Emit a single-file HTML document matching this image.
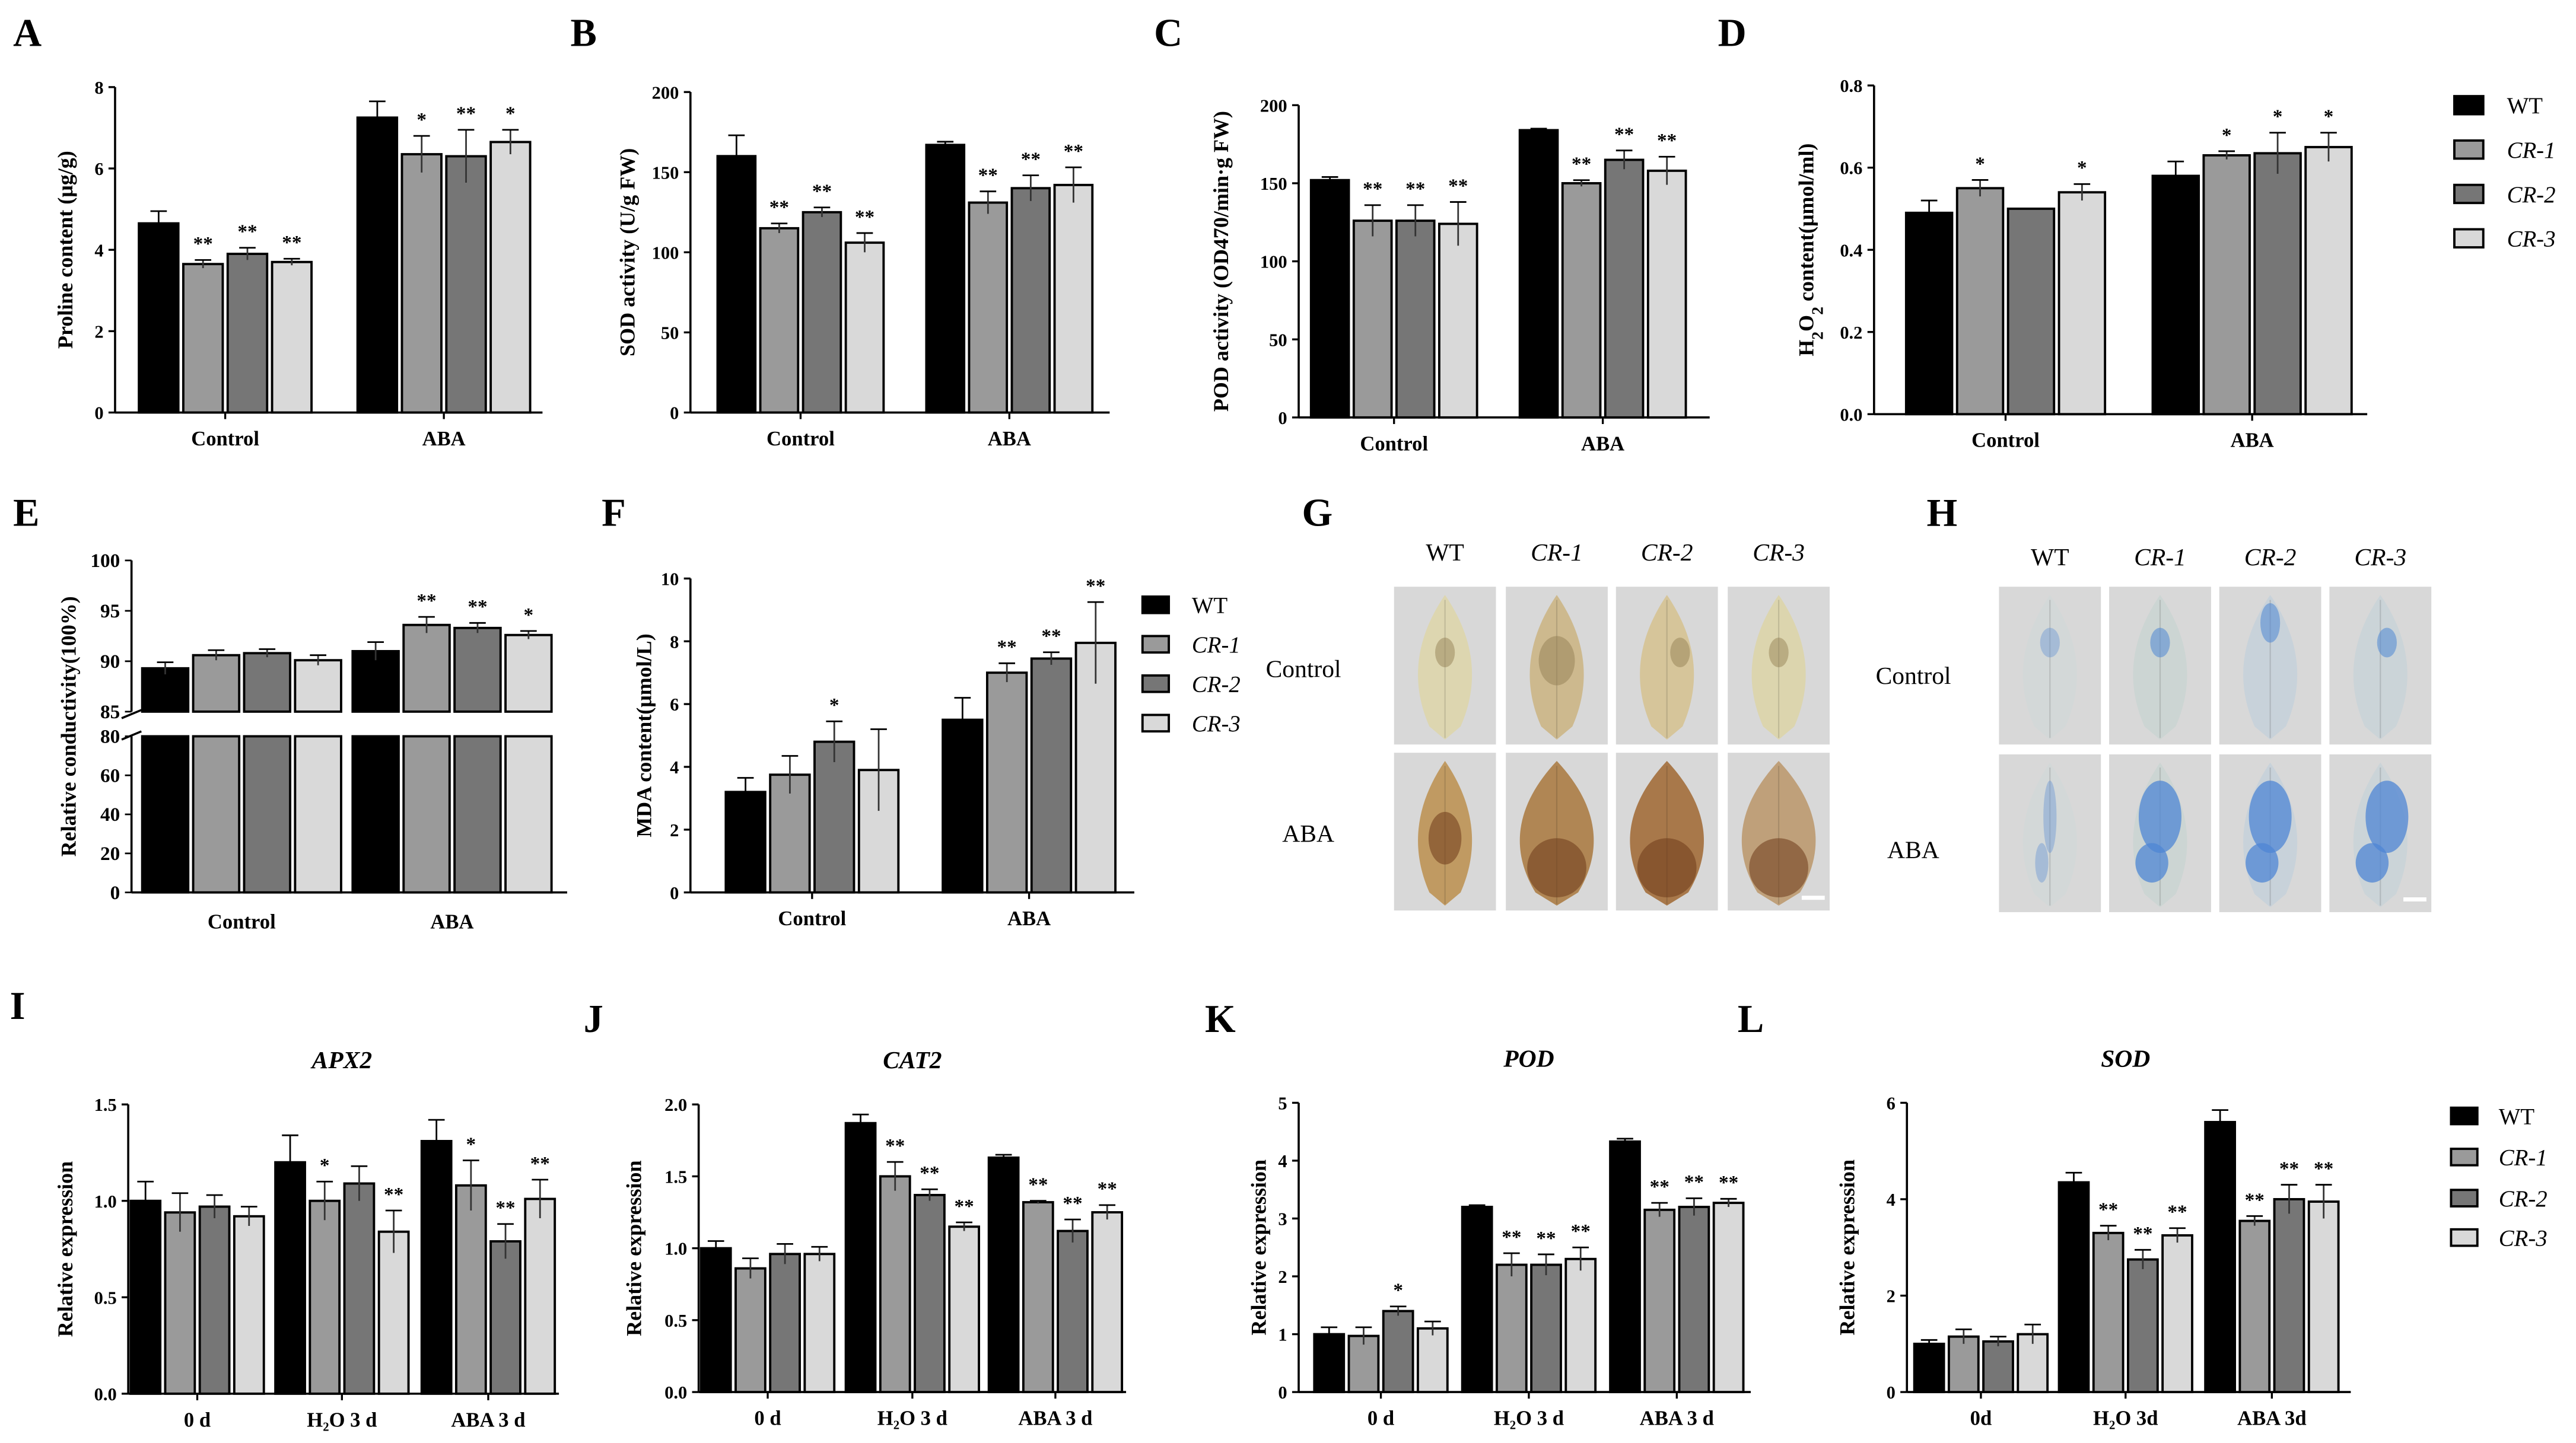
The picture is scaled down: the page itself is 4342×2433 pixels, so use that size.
<!DOCTYPE html>
<html><head><meta charset="utf-8"><style>
html,body{margin:0;padding:0;background:#fff;}
svg{display:block;font-family:"Liberation Serif",serif;}
</style></head><body>
<svg id="fig" width="4342" height="2433" viewBox="0 0 1567 878" preserveAspectRatio="none" xmlns="http://www.w3.org/2000/svg">
<g id="root"></g>
</svg>
<script>
// ---- data ----
const fillColors = ["#000000","#9a9a9a","#767676","#d9d9d9"];
const seriesNames = ["WT","CR-1","CR-2","CR-3"];

const aGroups = ["Control","ABA"];
const aVals = [[4.65,3.65,3.9,3.7],[7.25,6.35,6.3,6.65]];
const aErr = [[0.3,0.1,0.15,0.08],[0.4,0.45,0.65,0.3]];
const aStars = [["","**","**","**"],["","*","**","*"]];
const aTicks = [0,2,4,6,8];

const bGroups = ["Control","ABA"];
const bVals = [[160,115,125,106],[167,131,140,142]];
const bErr = [[13,3,3,6],[2,7,8,11]];
const bStars = [["","**","**","**"],["","**","**","**"]];
const bTicks = [0,50,100,150,200];

const cGroups = ["Control","ABA"];
const cVals = [[152,126,126,124],[184,150,165,158]];
const cErr = [[2,10,10,14],[1,2,6,9]];
const cStars = [["","**","**","**"],["","**","**","**"]];
const cTicks = [0,50,100,150,200];

const dGroups = ["Control","ABA"];
const dVals = [[0.49,0.55,0.5,0.54],[0.58,0.63,0.635,0.65]];
const dErr = [[0.03,0.02,0,0.02],[0.035,0.01,0.05,0.035]];
const dStars = [["","*","","*"],["","*","*","*"]];
const dTicks = ["0.0","0.2","0.4","0.6","0.8"];

const eGroups = ["Control","ABA"];
const eVals = [[89.3,90.6,90.8,90.1],[91,93.6,93.3,92.6]];
const eErr = [[0.6,0.5,0.4,0.5],[0.9,0.8,0.5,0.4]];
const eStars = [["","","",""],["","**","**","*"]];
const eTicksUpper = [85,90,95,100];
const eTicksLower = [0,20,40,60,80];

const fGroups = ["Control","ABA"];
const fVals = [[3.2,3.75,4.8,3.9],[5.5,7.0,7.45,7.95]];
const fErr = [[0.45,0.6,0.65,1.3],[0.7,0.3,0.2,1.3]];
const fStars = [["","","*",""],["","**","**","**"]];
const fTicks = [0,2,4,6,8,10];

const iGroups = ["0 d","H₂O 3 d","ABA 3 d"];
const iVals = [[1.0,0.94,0.97,0.92],[1.2,1.0,1.09,0.84],[1.31,1.08,0.79,1.01]];
const iErr = [[0.1,0.1,0.06,0.05],[0.14,0.1,0.09,0.11],[0.11,0.13,0.09,0.1]];
const iStars = [["","","",""],["","*","","**"],["","*","**","**"]];
const iTicks = ["0.0","0.5","1.0","1.5"];

const jGroups = ["0 d","H₂O 3 d","ABA 3 d"];
const jVals = [[1.0,0.86,0.96,0.96],[1.87,1.5,1.37,1.15],[1.63,1.32,1.12,1.25]];
const jErr = [[0.05,0.07,0.07,0.05],[0.06,0.1,0.04,0.03],[0.02,0.01,0.08,0.05]];
const jStars = [["","","",""],["","**","**","**"],["","**","**","**"]];
const jTicks = ["0.0","0.5","1.0","1.5","2.0"];

const kGroups = ["0 d","H₂O 3 d","ABA 3 d"];
const kVals = [[1.0,0.97,1.4,1.1],[3.2,2.2,2.2,2.3],[4.33,3.15,3.2,3.27]];
const kErr = [[0.12,0.15,0.08,0.12],[0.03,0.2,0.18,0.2],[0.05,0.12,0.15,0.07]];
const kStars = [["","","*",""],["","**","**","**"],["","**","**","**"]];
const kTicks = [0,1,2,3,4,5];

const lGroups = ["0d","H₂O 3d","ABA 3d"];
const lVals = [[1.0,1.15,1.05,1.2],[4.35,3.3,2.75,3.25],[5.6,3.55,4.0,3.95]];
const lErr = [[0.08,0.15,0.1,0.2],[0.2,0.15,0.2,0.15],[0.25,0.1,0.3,0.35]];
const lStars = [["","","",""],["","**","**","**"],["","**","**","**"]];
const lTicks = [0,2,4,6];

// ---- drawing ----
const NS="http://www.w3.org/2000/svg";
const root=document.getElementById('root');
function mk(tag,attrs,parent,text){const e=document.createElementNS(NS,tag);for(const k in attrs)e.setAttribute(k,attrs[k]);if(text!==undefined)e.textContent=text;(parent||root).appendChild(e);return e;}

function panel(o){
  const g=mk('g',{});
  
  
  const ymax=o.ymax, sy=v=>o.y1-(v/ymax)*(o.y1-o.y0);
  const ax=mk('line',{x1:o.x0,y1:o.y0,x2:o.x0,y2:o.y1,stroke:'#000','stroke-width':1.3},g);
  
  
  mk('line',{x1:o.x0,y1:o.y1,x2:o.xEnd,y2:o.y1,stroke:'#000','stroke-width':1.3},g);
  o.ticks.forEach(t=>{const y=sy(parseFloat(t));
    mk('line',{x1:o.x0-4,y1:y,x2:o.x0,y2:y,stroke:'#000','stroke-width':1.2},g);
    const tl=mk('text',{x:o.x0-7,y:y+4,'font-size':11,'font-weight':'bold','text-anchor':'end'},g,String(t));
    
    
  });
  const bw=o.bw, gap=o.gap||3;
  o.groups.forEach((gn,gi)=>{
    const cx=o.centers[gi];
    const gl=mk('text',{x:cx,y:o.y1+20,'font-size':12.5,'font-weight':'bold','text-anchor':'middle'},g,gn);
    
    
    mk('line',{x1:cx,y1:o.y1,x2:cx,y2:o.y1+4,stroke:'#000','stroke-width':1.2},g);
    o.vals[gi].forEach((v,si)=>{
      const x=cx+(si-1.5)*(bw+gap)-bw/2, y=sy(v);
      const r=mk('rect',{x:x,y:y,width:bw,height:o.y1-y,fill:fillColors[si],stroke:'#000','stroke-width':1.4},g);
      
      
      const e=o.err[gi][si], xc=x+bw/2;
      if(e>0){const yt=sy(v+e), yb=sy(Math.max(0,v-e));
        mk('line',{x1:xc,y1:yt,x2:xc,y2:yb,stroke:si==0?'#000':'#333','stroke-width':1},g);
        mk('line',{x1:xc-5,y1:yt,x2:xc+5,y2:yt,stroke:'#000','stroke-width':1},g);}
      const st=o.stars[gi][si];
      if(st){const s=mk('text',{x:xc,y:sy(v+e)-6,'font-size':12,'font-weight':'bold','text-anchor':'middle'},g,st);
        
        }
    });
  });
  if(o.ylabel){const yl=mk('text',{x:0,y:0,'font-size':13,'font-weight':'bold','text-anchor':'middle',transform:`translate(${o.ylx},${(o.y0+o.y1)/2}) rotate(-90)`},g);
    
    
    yl.innerHTML=o.ylabel;}
  if(o.title){const t=mk('text',{x:o.centers[1],y:o.y0-22,'font-size':15,'font-weight':'bold','font-style':'italic','text-anchor':'middle'},g,o.title);
    
    }
  return g;
}

panel({name:'panel-a-proline',x0:70,y0:53,y1:251,xEnd:330,ymax:8,ticks:aTicks,groups:aGroups,centers:[137,270],vals:aVals,err:aErr,stars:aStars,bw:24,ylabel:'Proline content (μg/g)',ylx:44});
panel({name:'panel-b-sod',x0:420,y0:56,y1:251,xEnd:675,ymax:200,ticks:bTicks,groups:bGroups,centers:[487,614],vals:bVals,err:bErr,stars:bStars,bw:23,ylabel:'SOD activity (U/g FW)',ylx:386});
panel({name:'panel-c-pod',x0:790,y0:64,y1:254,xEnd:1040,ymax:200,ticks:cTicks,groups:cGroups,centers:[848,975],vals:cVals,err:cErr,stars:cStars,bw:23,ylabel:'POD activity (OD470/min·g FW)',ylx:747});
panel({name:'panel-d-h2o2',x0:1140,y0:52,y1:252,xEnd:1440,ymax:0.8,ticks:dTicks,groups:dGroups,centers:[1220,1370],vals:dVals,err:dErr,stars:dStars,bw:28,ylabel:'H<tspan baseline-shift="sub" font-size="10">2</tspan>O<tspan baseline-shift="sub" font-size="10">2</tspan> content(μmol/ml)',ylx:1103});
panel({name:'panel-f-mda',x0:420,y0:352,y1:543,xEnd:690,ymax:10,ticks:fTicks,groups:fGroups,centers:[494,626],vals:fVals,err:fErr,stars:fStars,bw:24,ylabel:'MDA content(μmol/L)',ylx:396});
panel({name:'panel-i-apx2',x0:78,y0:672,y1:848,xEnd:340,ymax:1.5,ticks:iTicks,groups:iGroups,centers:[120,208,297],vals:iVals,err:iErr,stars:iStars,bw:18,title:'APX2',ylabel:'Relative expression',ylx:44});
panel({name:'panel-j-cat2',x0:425,y0:672,y1:847,xEnd:685,ymax:2.0,ticks:jTicks,groups:jGroups,centers:[467,555,642],vals:jVals,err:jErr,stars:jStars,bw:18,title:'CAT2',ylabel:'Relative expression',ylx:390});
panel({name:'panel-k-pod',x0:790,y0:671,y1:847,xEnd:1065,ymax:5,ticks:kTicks,groups:kGroups,centers:[840,930,1020],vals:kVals,err:kErr,stars:kStars,bw:18,title:'POD',ylabel:'Relative expression',ylx:770});
panel({name:'panel-l-sod',x0:1160,y0:671,y1:847,xEnd:1430,ymax:6,ticks:lTicks,groups:lGroups,centers:[1205,1293,1382],vals:lVals,err:lErr,stars:lStars,bw:18,title:'SOD',ylabel:'Relative expression',ylx:1128});

// Panel E broken axis
(function(){
  const g=mk('g',{});
  
  
  const x0=80,xEnd=345,uTop=341,uBot=433,lTop=448,lBot=543;
  const syU=v=>uBot-(v-85)/15*(uBot-uTop);
  const syL=v=>lBot-v/80*(lBot-lTop);
  mk('line',{x1:x0,y1:uTop,x2:x0,y2:uBot,stroke:'#000','stroke-width':1.3},g);
  mk('line',{x1:x0,y1:lTop,x2:x0,y2:lBot,stroke:'#000','stroke-width':1.3},g);
  mk('line',{x1:x0,y1:lBot,x2:xEnd,y2:lBot,stroke:'#000','stroke-width':1.3},g);
  mk('line',{x1:x0-6,y1:437,x2:x0+6,y2:432,stroke:'#000','stroke-width':1.3},g);
  mk('line',{x1:x0-6,y1:450,x2:x0+6,y2:445,stroke:'#000','stroke-width':1.3},g);
  eTicksUpper.forEach(t=>{const y=syU(t);mk('line',{x1:x0-4,y1:y,x2:x0,y2:y,stroke:'#000'},g);
    const tl=mk('text',{x:x0-7,y:y+4,'font-size':12,'font-weight':'bold','text-anchor':'end'},g,t);
    
    });
  eTicksLower.forEach(t=>{const y=syL(t);mk('line',{x1:x0-4,y1:y,x2:x0,y2:y,stroke:'#000'},g);
    const tl=mk('text',{x:x0-7,y:y+4,'font-size':12,'font-weight':'bold','text-anchor':'end'},g,t);
    
    });
  const centers=[147,275],bw=28,gap=3;
  eGroups.forEach((gn,gi)=>{const cx=centers[gi];
    const gl=mk('text',{x:cx,y:lBot+22,'font-size':12.5,'font-weight':'bold','text-anchor':'middle'},g,gn);
    
    
    eVals[gi].forEach((v,si)=>{const x=cx+(si-1.5)*(bw+gap)-bw/2,y=syU(v);
      const r=mk('rect',{x:x,y:y,width:bw,height:uBot-y,fill:fillColors[si],stroke:'#000','stroke-width':1.4},g);
      
      
      const r2=mk('rect',{x:x,y:lTop,width:bw,height:lBot-lTop,fill:fillColors[si],stroke:'#000','stroke-width':1.4},g);
      
      
      const e=eErr[gi][si],xc=x+bw/2,yt=syU(v+e);
      mk('line',{x1:xc,y1:yt,x2:xc,y2:syU(v-e),stroke:'#333'},g);
      mk('line',{x1:xc-5,y1:yt,x2:xc+5,y2:yt,stroke:'#000'},g);
      const st=eStars[gi][si];
      if(st){const s=mk('text',{x:xc,y:yt-6,'font-size':12,'font-weight':'bold','text-anchor':'middle'},g,st);
        
        }
    });});
  const yl=mk('text',{x:0,y:0,'font-size':13,'font-weight':'bold','text-anchor':'middle',transform:'translate(46,442) rotate(-90)'},g,'Relative conductivity(100%)');
  
  
})();

// legends
function legend(name,x,ys,tx,size){
  const g=mk('g',{});
  
  
  seriesNames.forEach((n,i)=>{
    mk('rect',{x:x,y:ys[i]-size/2,width:size*1.6,height:size,fill:fillColors[i],stroke:'#000','stroke-width':1.4},g);
    const t=mk('text',{x:tx,y:ys[i]+5,'font-size':14,'font-style':i?'italic':'normal'},g,n);
    
    
  });
}
legend('legend-top',1493,[64,91,118,145],1525,11);
legend('legend-f',695,[368,392,416,440],725,10);
legend('legend-bottom',1491,[679,704,729,753],1520,10);

// panel letters
[["A",8,28],["B",347,28],["C",702,28],["D",1045,28],["E",8,320],["F",366,320],["G",792,320],["H",1172,320],["I",6,620],["J",355,628],["K",733,628],["L",1057,628]].forEach(([l,x,y])=>{
  const t=mk('text',{x:x,y:y,'font-size':24,'font-weight':'bold'},root,l);
  
  
});

// leaf photo panels
function leafPath(cx,top,bot,w){
  const mid=(top+bot)/2+8;
  return `M${cx},${top} C${cx+w*0.9},${top+25} ${cx+w*1.15},${mid} ${cx+w*0.5},${bot-8} L${cx},${bot} L${cx-w*0.5},${bot-8} C${cx-w*1.15},${mid} ${cx-w*0.9},${top+25} ${cx},${top} Z`;
}
function photos(name,cols,rows,labY,ctrl,aba,type){
  const g=mk('g',{});
  
  
  seriesNames.forEach((n,i)=>{
    const t=mk('text',{x:cols[i]+31,y:labY,'font-size':15,'text-anchor':'middle','font-style':i?'italic':'normal'},g,n);
    
    
  });
  const t1=mk('text',{x:ctrl[0],y:ctrl[1],'font-size':15},g,'Control');
  
  
  const t2=mk('text',{x:aba[0],y:aba[1],'font-size':15},g,'ABA');
  
  
  rows.forEach((ry,ri)=>cols.forEach((cx,ci)=>{
    mk('rect',{x:cx,y:ry,width:62,height:96,fill:'#d8d8d8'},g);
    let leaf, spot;
    if(type==='dab'){leaf=ri?['#c09a62','#b08654','#a8784a','#bfa07a'][ci]:['#ddd6b0','#cdb98e','#d6c59a','#dcd5ae'][ci]; spot=ri?'#6e3a1a':'#8d7a4e';}
    else {leaf=['#d3d8d8','#ccd5d3','#c8d2da','#cbd4d8'][ci]; spot='#4f86d4';}
    const w=(ri&&ci&&type==='dab')?26:19;
    const lcx=cx+31;
    mk('path',{d:leafPath(lcx,ry+5,ry+93,w),fill:leaf},g);
    mk('line',{x1:lcx,y1:ry+8,x2:lcx,y2:ry+92,stroke:'#000',opacity:0.12,'stroke-width':0.8},g);
    if(type==='dab'){
      if(ri){mk('ellipse',{cx:lcx,cy:ry+(ci?70:52),rx:ci?18:10,ry:ci?18:16,fill:spot,opacity:0.55},g);}
      else {mk('ellipse',{cx:lcx+(ci==2?8:0),cy:ry+(ci==1?45:40),rx:ci==1?11:6,ry:ci==1?15:9,fill:spot,opacity:0.45},g);}
    } else {
      const a=ri?(ci?0.75:0.35):(ci?0.55:0.35);
      mk('ellipse',{cx:lcx+(ci==3?4:0),cy:ry+(ri?38:(ci==2?22:34)),rx:ri?(ci?13:4):6,ry:ri?22:(ci==2?12:9),fill:spot,opacity:a},g);
      if(ri) mk('ellipse',{cx:lcx-5,cy:ry+66,rx:ci?10:4,ry:12,fill:spot,opacity:a},g);
    }
    if(ri&&ci==3) mk('rect',{x:cx+45,y:ry+87,width:14,height:2.5,fill:'#fff'},g);
  }));
}
photos('panel-g-dab-staining',[848,916,983,1051],[357,458],341,[770,412],[780,512],'dab');
photos('panel-h-nbt-staining',[1216,1283,1350,1417],[357,459],344,[1141,416],[1148,522],'nbt');
</script>
</body></html>
